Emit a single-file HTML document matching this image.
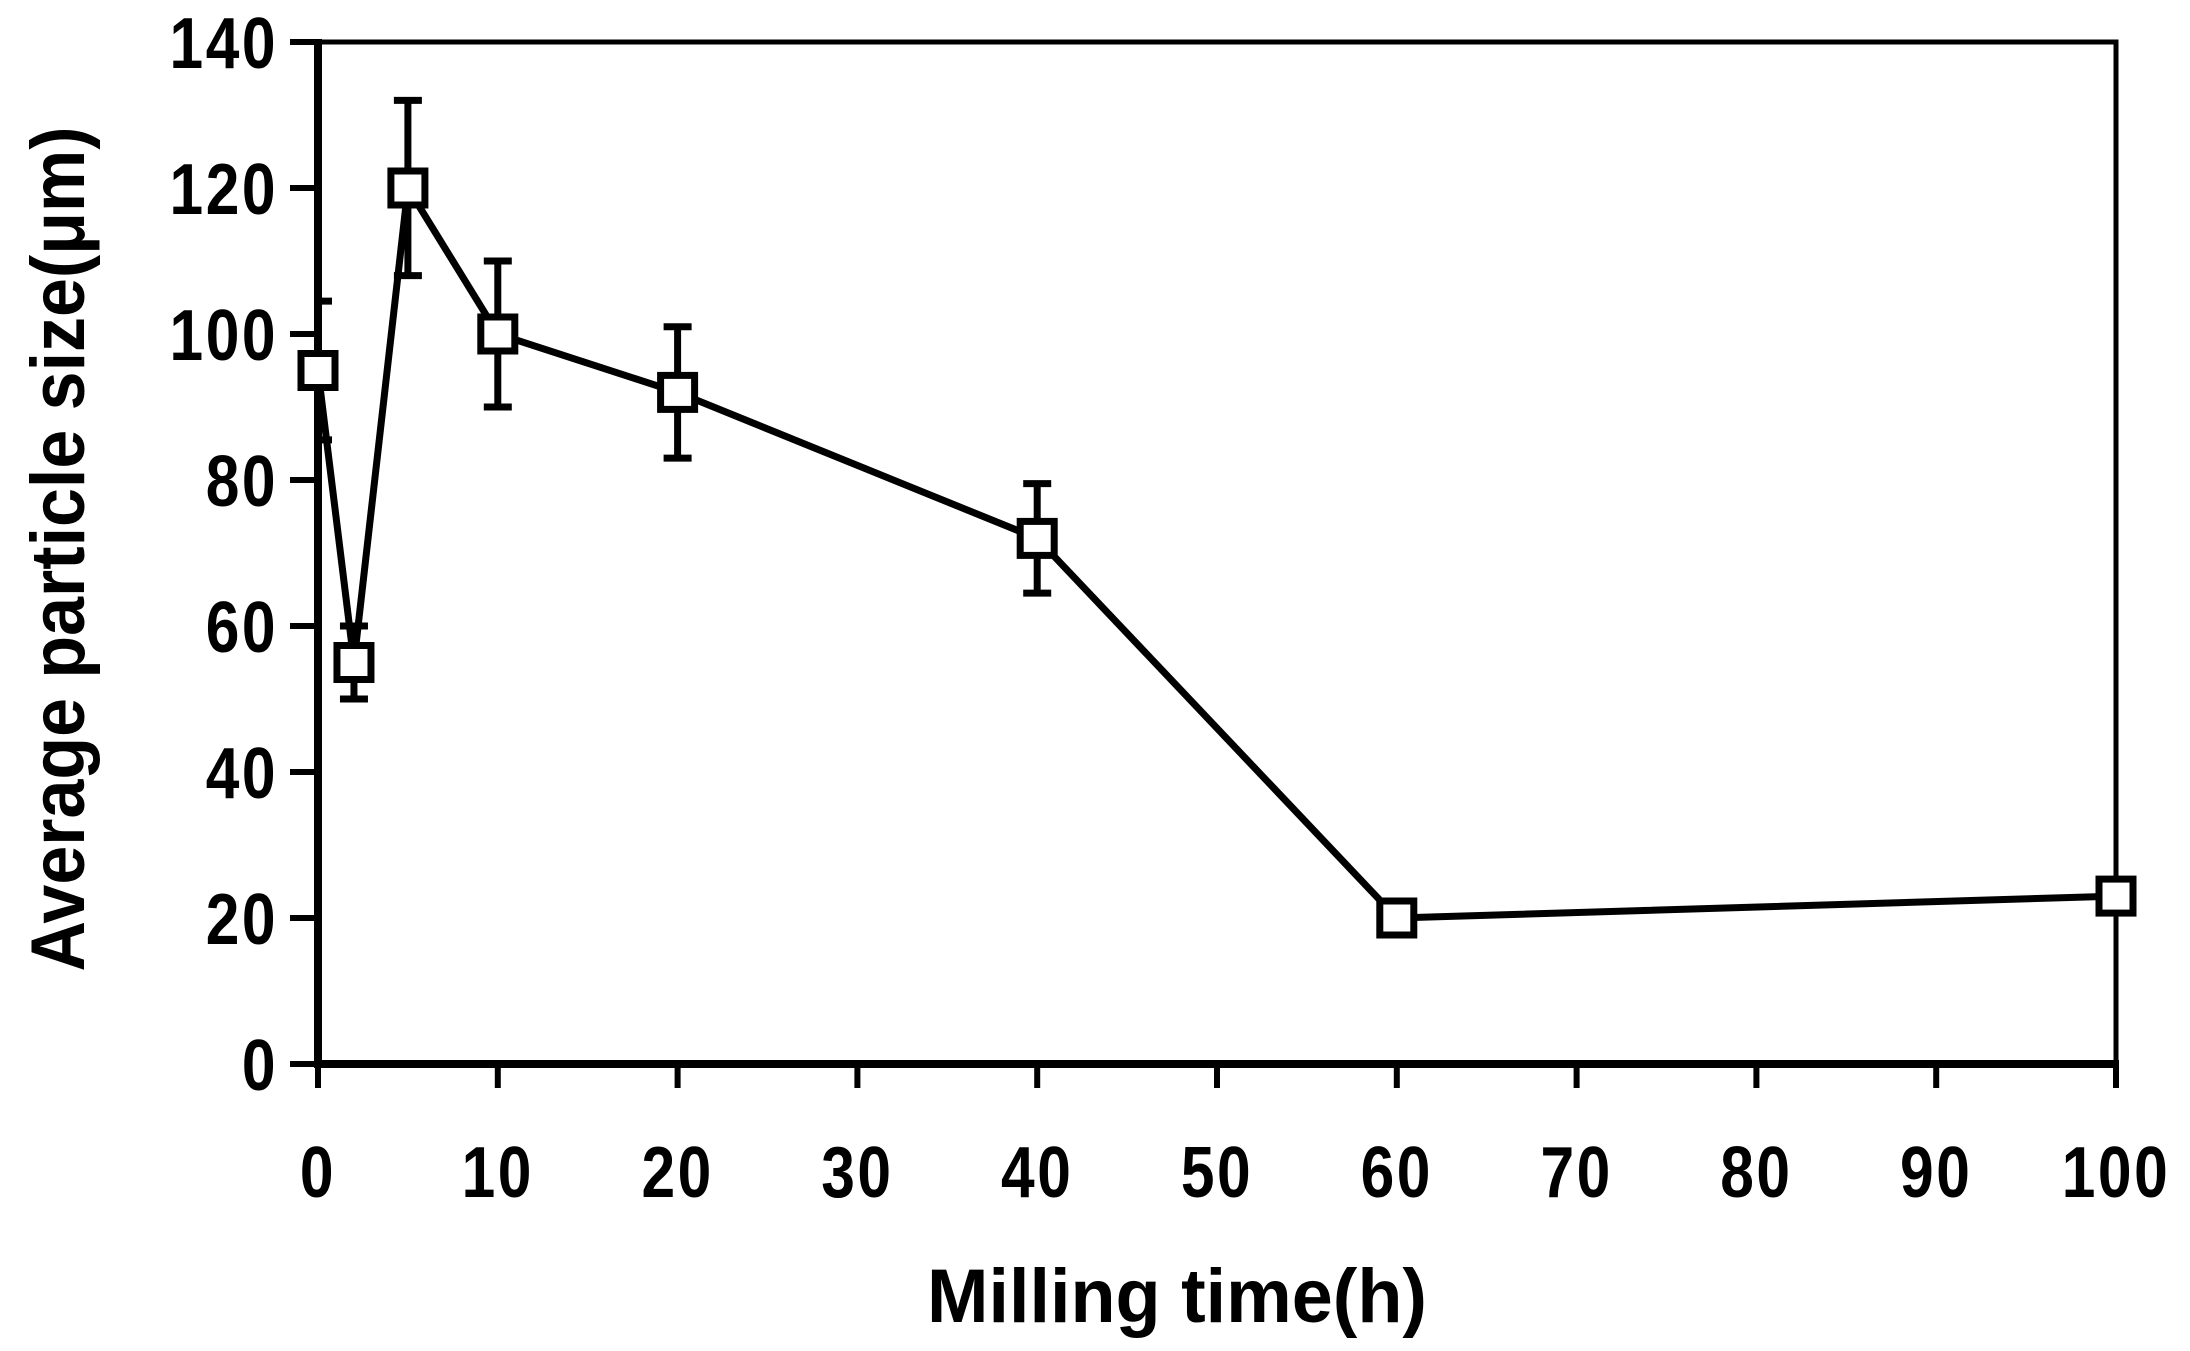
<!DOCTYPE html>
<html><head><meta charset="utf-8"><style>
html,body{margin:0;padding:0;background:#fff;}
svg{display:block;}
text{font-family:"Liberation Sans",sans-serif;font-weight:bold;fill:#000;}
</style></head><body>
<svg id="chart" width="2190" height="1351" viewBox="0 0 2190 1351" xmlns="http://www.w3.org/2000/svg">
<defs><clipPath id="plotclip"><rect x="318" y="0" width="1900" height="1351"/></clipPath></defs>
<g id="axes"></g>
<g id="series" clip-path="url(#plotclip)"></g>
<text x="1177" y="1322" font-size="76" text-anchor="middle" textLength="500" lengthAdjust="spacingAndGlyphs">Milling time(h)</text>
<text x="0" y="0" font-size="76" text-anchor="middle" textLength="845" lengthAdjust="spacingAndGlyphs" transform="translate(84,549) rotate(-90)">Average particle size(μm)</text>
</svg>
<script>
const xValues = [0, 2, 5, 10, 20, 40, 60, 100];
const yValues = [95, 55, 120, 100, 92, 72, 20, 23];
const yErrors = [9.5, 5, 12, 10, 9, 7.5, 0, 0];
const xTicks = [0, 10, 20, 30, 40, 50, 60, 70, 80, 90, 100];
const yTicks = [0, 20, 40, 60, 80, 100, 120, 140];

const L = 318, R = 2116, T = 42, B = 1064;
const xMin = 0, xMax = 100, yMin = 0, yMax = 140;
function sx(v){ return L + (v - xMin) / (xMax - xMin) * (R - L); }
function sy(v){ return B - (v - yMin) / (yMax - yMin) * (B - T); }
const NS = "http://www.w3.org/2000/svg";
function mk(tag, attrs, parent){ const e = document.createElementNS(NS, tag); for (const k in attrs) e.setAttribute(k, attrs[k]); parent.appendChild(e); return e; }

const axes = document.getElementById('axes');
const frame = mk('rect', {x:L, y:T, width:R-L, height:B-T, fill:'none', stroke:'#000', 'stroke-width':5}, axes);


const xAxis = mk('line', {x1:L-4, y1:B, x2:R+3, y2:B, stroke:'#000', 'stroke-width':8}, axes);


const yAxis = mk('line', {x1:L, y1:T-3, x2:L, y2:B+4, stroke:'#000', 'stroke-width':8}, axes);



xTicks.forEach(v => {
  const t = mk('line', {x1:sx(v), y1:B, x2:sx(v), y2:B+24, stroke:'#000', 'stroke-width':6}, axes);
  
  
  const lb = mk('text', {x:0, y:0, 'font-size':72, 'text-anchor':'middle', 'letter-spacing':3, transform:'translate(' + sx(v) + ',' + (B+133) + ') scale(0.84,1)'}, axes);
  
  
  lb.textContent = String(v);
});
yTicks.forEach(v => {
  const t = mk('line', {x1:L-28, y1:sy(v), x2:L, y2:sy(v), stroke:'#000', 'stroke-width':6}, axes);
  
  
  const lb = mk('text', {x:0, y:0, 'font-size':72, 'text-anchor':'end', 'letter-spacing':3, transform:'translate(' + (L-40) + ',' + (sy(v)+26) + ') scale(0.84,1)'}, axes);
  
  
  lb.textContent = String(v);
});

const series = document.getElementById('series');
yErrors.forEach((e, i) => {
  if (!e) return;
  const x = sx(xValues[i]), y1 = sy(yValues[i] + e), y2 = sy(yValues[i] - e);
  const g = mk('g', {stroke:'#000', 'stroke-width':7}, series);
  
  
  mk('line', {x1:x, y1:y1, x2:x, y2:y2}, g);
  mk('line', {x1:x-14, y1:y1, x2:x+14, y2:y1}, g);
  mk('line', {x1:x-14, y1:y2, x2:x+14, y2:y2}, g);
});
const pts = xValues.map((v, i) => sx(v) + ',' + sy(yValues[i])).join(' ');
const line = mk('polyline', {points:pts, fill:'none', stroke:'#000', 'stroke-width':7, 'stroke-linejoin':'miter'}, series);



const markers = mk('g', {}, document.getElementById('chart'));


xValues.forEach((v, i) => {
  const m = mk('rect', {x:sx(v)-17, y:sy(yValues[i])-17, width:34, height:34, fill:'#fff', stroke:'#000', 'stroke-width':7}, markers);
  
  
});
</script>
</body></html>
